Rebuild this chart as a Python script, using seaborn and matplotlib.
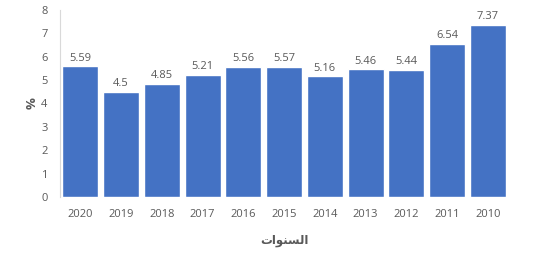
import matplotlib
matplotlib.use("Agg")
import matplotlib.pyplot as plt
import seaborn as sns
import pandas as pd

years = ["2020", "2019", "2018", "2017", "2016", "2015", "2014", "2013", "2012", "2011", "2010"]
values = [5.59, 4.5, 4.85, 5.21, 5.56, 5.57, 5.16, 5.46, 5.44, 6.54, 7.37]
value_labels = ["5.59", "4.5", "4.85", "5.21", "5.56", "5.57", "5.16", "5.46", "5.44", "6.54", "7.37"]
# "السنوات" in Arabic presentation forms (visual order), since matplotlib does not shape Arabic
x_title = "\uFE95\uFE8D\uFEEE\uFEE8\uFEB4\uFEDF\uFE8D"
y_title = "%"

sns.set_style("white")
plt.rcParams['font.family'] = ['Open Sans', 'DejaVu Sans']
text_color = "#595959"

df = pd.DataFrame({"year": years, "value": values})
fig = plt.figure(figsize=(5.5, 2.65), dpi=100)
ax = fig.add_axes([0.109, 0.257, 0.815, 0.705])
sns.barplot(data=df, x="year", y="value", color="#4472C4", saturation=1, width=0.88, ax=ax)
ax.set_ylim(0, 8)
ax.set_xlim(-0.5, 10.5)
ax.set_yticks(range(0, 9))
for c in ax.containers:
    ax.bar_label(c, labels=value_labels, padding=2, fontsize=8, color=text_color)
ax.tick_params(axis="both", length=0, labelsize=8, colors=text_color)
ax.tick_params(axis="x", pad=9)
ax.tick_params(axis="y", pad=9)
for s in ["top", "right", "bottom"]:
    ax.spines[s].set_visible(False)
ax.spines["left"].set_color("#D9D9D9")
ax.spines["left"].set_linewidth(0.8)
ax.set_xlabel(x_title, fontsize=8.5, color=text_color, fontweight="bold", family=["DejaVu Sans"], labelpad=10)
ax.set_ylabel(y_title, fontsize=9.5, color=text_color, fontweight="bold", labelpad=2)
fig.savefig("out.png", dpi=100, facecolor="white")
